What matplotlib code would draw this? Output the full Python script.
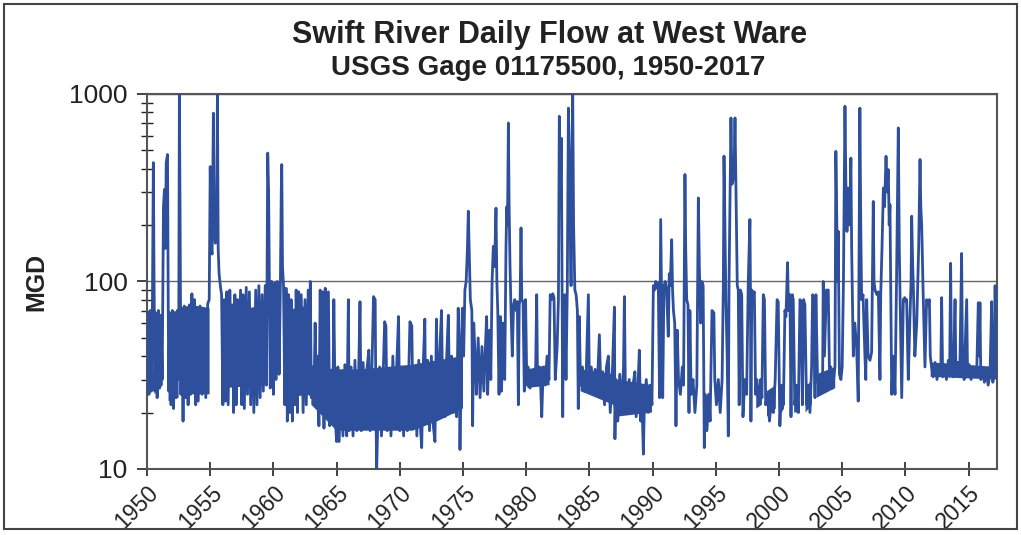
import numpy as np
import matplotlib
matplotlib.use("Agg")
import matplotlib.pyplot as plt
from matplotlib.ticker import LogLocator, FixedLocator, NullFormatter
from matplotlib.patches import Rectangle

# daily flow: (year, MGD) turning points
flow_1950s = [(1950.00, 28), (1950.08, 68), (1950.15, 25), (1950.25, 70), (1950.33, 26), (1950.42, 62),
              (1950.50, 430), (1950.55, 120), (1950.62, 26), (1950.70, 68), (1950.80, 24), (1950.90, 70),
              (1951.00, 27), (1951.10, 66), (1951.20, 30), (1951.30, 250), (1951.38, 310), (1951.45, 150),
              (1951.52, 430), (1951.62, 475), (1951.68, 70), (1951.72, 26), (1951.80, 68), (1951.90, 22),
              (1952.00, 70), (1952.10, 21), (1952.20, 68), (1952.30, 24), (1952.40, 70), (1952.50, 30),
              (1952.56, 1000), (1952.62, 200), (1952.68, 25), (1952.75, 72), (1952.85, 18), (1952.95, 74),
              (1953.05, 24), (1953.15, 72), (1953.25, 22), (1953.35, 75), (1953.45, 25), (1953.55, 86),
              (1953.65, 26), (1953.75, 80), (1953.85, 22), (1953.95, 72), (1954.05, 23), (1954.20, 74),
              (1954.35, 25), (1954.50, 72), (1954.65, 24), (1954.80, 76), (1954.92, 80), (1955.00, 410),
              (1955.08, 150), (1955.15, 140), (1955.25, 790), (1955.32, 200), (1955.40, 160), (1955.50, 180),
              (1955.57, 1000), (1955.63, 150), (1955.70, 110), (1955.80, 95), (1955.90, 85), (1956.00, 22),
              (1956.10, 80), (1956.20, 23), (1956.30, 88), (1956.42, 22), (1956.55, 90), (1956.65, 45),
              (1956.75, 75), (1956.85, 20), (1956.95, 85), (1957.05, 22), (1957.15, 80), (1957.25, 30),
              (1957.40, 90), (1957.50, 22), (1957.60, 85), (1957.70, 21), (1957.85, 93), (1957.95, 25),
              (1958.10, 88), (1958.20, 22), (1958.35, 70), (1958.45, 20), (1958.60, 90), (1958.70, 22),
              (1958.85, 95), (1958.95, 24), (1959.10, 85), (1959.20, 26), (1959.35, 95), (1959.45, 28),
              (1959.55, 484), (1959.62, 300), (1959.68, 100), (1959.75, 27), (1959.85, 100), (1959.95, 95)]

flow_1960s = [(1960.00, 25), (1960.10, 98), (1960.20, 30), (1960.30, 100), (1960.40, 97), (1960.45, 32),
              (1960.55, 95), (1960.62, 300), (1960.66, 420), (1960.72, 120), (1960.80, 95), (1960.90, 22),
              (1961.00, 92), (1961.10, 18), (1961.20, 85), (1961.30, 20), (1961.40, 80), (1961.50, 18),
              (1961.60, 70), (1961.70, 22), (1961.80, 90), (1961.90, 20), (1962.00, 88), (1962.10, 25),
              (1962.20, 85), (1962.35, 20), (1962.50, 80), (1962.60, 22), (1962.75, 90), (1962.85, 25),
              (1962.92, 100), (1963.00, 24), (1963.10, 35), (1963.20, 23), (1963.30, 60), (1963.40, 24),
              (1963.50, 40), (1963.60, 17), (1963.70, 90), (1963.80, 22), (1963.90, 88), (1964.00, 16.5),
              (1964.10, 92), (1964.20, 20), (1964.35, 88), (1964.45, 17), (1964.55, 30), (1964.70, 20),
              (1964.78, 80), (1964.90, 18), (1965.00, 14), (1965.10, 35), (1965.20, 14), (1965.35, 32),
              (1965.50, 15), (1965.65, 36), (1965.80, 15), (1965.93, 80), (1966.00, 16), (1966.15, 35),
              (1966.30, 15), (1966.45, 38), (1966.60, 16), (1966.75, 34), (1966.85, 78), (1966.95, 16),
              (1967.10, 37), (1967.25, 17), (1967.40, 34), (1967.55, 43), (1967.65, 16), (1967.80, 36),
              (1967.92, 83), (1968.05, 80), (1968.12, 18), (1968.17, 10), (1968.25, 17), (1968.40, 35),
              (1968.55, 15), (1968.70, 34), (1968.80, 61), (1968.90, 58), (1969.00, 16), (1969.15, 33),
              (1969.30, 15), (1969.45, 40), (1969.60, 17), (1969.75, 35), (1969.90, 65)]

flow_1970s = [(1970.00, 16), (1970.15, 35), (1970.30, 15), (1970.45, 33), (1970.60, 16), (1970.80, 61),
              (1970.95, 58), (1971.05, 17), (1971.20, 35), (1971.35, 15), (1971.50, 38), (1971.65, 16),
              (1971.73, 13), (1971.85, 35), (1971.98, 63), (1972.05, 18), (1972.20, 38), (1972.35, 16),
              (1972.50, 40), (1972.65, 17), (1972.78, 14), (1972.90, 63), (1973.00, 20), (1973.15, 40),
              (1973.30, 70), (1973.40, 22), (1973.57, 19), (1973.70, 38), (1973.84, 66), (1973.95, 22),
              (1974.10, 40), (1974.25, 20), (1974.40, 38), (1974.50, 19), (1974.62, 72), (1974.70, 45),
              (1974.76, 12.7), (1974.85, 35), (1974.95, 72), (1975.05, 40), (1975.15, 90), (1975.25, 100),
              (1975.35, 150), (1975.42, 237), (1975.50, 140), (1975.58, 80), (1975.70, 70), (1975.76, 17),
              (1975.85, 60), (1975.95, 40), (1976.05, 25), (1976.20, 50), (1976.35, 24), (1976.50, 45),
              (1976.65, 26), (1976.80, 50), (1976.87, 65), (1976.95, 25), (1977.10, 55), (1977.20, 30),
              (1977.30, 100), (1977.40, 154), (1977.50, 120), (1977.61, 246), (1977.68, 100), (1977.75, 70),
              (1977.85, 25), (1977.95, 65), (1978.05, 26), (1978.15, 60), (1978.30, 30), (1978.40, 150),
              (1978.46, 250), (1978.52, 200), (1978.59, 700), (1978.65, 250), (1978.72, 120), (1978.80, 70),
              (1978.90, 40), (1979.00, 75), (1979.10, 80), (1979.20, 70), (1979.30, 78), (1979.38, 22),
              (1979.45, 75), (1979.52, 80), (1979.59, 193), (1979.65, 80), (1979.75, 78), (1979.85, 26),
              (1979.95, 80)]

flow_1980s = [(1980.05, 28), (1980.15, 35), (1980.30, 27), (1980.45, 33), (1980.60, 28), (1980.75, 35),
              (1980.83, 85), (1980.90, 28), (1981.05, 35), (1981.15, 27), (1981.23, 19), (1981.35, 35),
              (1981.50, 28), (1981.65, 40), (1981.80, 30), (1981.90, 85), (1982.00, 80), (1982.10, 86),
              (1982.20, 82), (1982.30, 30), (1982.45, 45), (1982.55, 80), (1982.62, 760), (1982.70, 300),
              (1982.78, 580), (1982.84, 80), (1982.89, 19), (1982.95, 80), (1983.05, 85), (1983.15, 30),
              (1983.25, 90), (1983.34, 840), (1983.45, 300), (1983.55, 95), (1983.62, 500), (1983.68, 1000),
              (1983.75, 200), (1983.85, 90), (1983.95, 85), (1984.05, 70), (1984.12, 21), (1984.20, 65),
              (1984.30, 28), (1984.45, 35), (1984.60, 26), (1984.75, 33), (1984.92, 85), (1985.00, 28),
              (1985.15, 35), (1985.30, 26), (1985.45, 34), (1985.60, 25), (1985.79, 52), (1985.90, 27),
              (1986.05, 33), (1986.20, 22), (1986.35, 35), (1986.50, 40), (1986.65, 20), (1986.80, 30),
              (1986.98, 73), (1987.02, 14.5), (1987.10, 30), (1987.25, 18), (1987.40, 32), (1987.55, 20),
              (1987.70, 35), (1987.77, 83), (1987.85, 25), (1988.00, 22), (1988.15, 30), (1988.30, 20),
              (1988.45, 28), (1988.60, 33), (1988.70, 19), (1988.85, 28), (1988.95, 43), (1989.05, 18),
              (1989.15, 25), (1989.27, 12), (1989.35, 22), (1989.50, 30), (1989.65, 20), (1989.80, 28),
              (1989.95, 22)]

flow_1990s = [(1990.06, 95), (1990.15, 90), (1990.25, 100), (1990.35, 92), (1990.45, 98), (1990.55, 24),
              (1990.64, 214), (1990.70, 95), (1990.80, 24), (1990.90, 95), (1991.00, 100), (1991.10, 92),
              (1991.24, 51), (1991.32, 110), (1991.40, 95), (1991.51, 167), (1991.58, 90), (1991.65, 70),
              (1991.75, 60), (1991.85, 17), (1991.95, 55), (1992.05, 30), (1992.20, 25), (1992.35, 35),
              (1992.45, 28), (1992.56, 372), (1992.62, 150), (1992.70, 80), (1992.80, 75), (1992.88, 20),
              (1992.95, 70), (1993.05, 25), (1993.20, 30), (1993.35, 20), (1993.50, 28), (1993.62, 279),
              (1993.70, 120), (1993.80, 60), (1993.90, 100), (1994.00, 95), (1994.09, 13), (1994.15, 25),
              (1994.30, 16), (1994.45, 25), (1994.55, 18), (1994.70, 70), (1994.85, 68), (1994.92, 30),
              (1995.05, 22), (1995.20, 30), (1995.35, 20), (1995.50, 30), (1995.60, 100), (1995.65, 466),
              (1995.72, 200), (1995.80, 80), (1995.90, 40), (1995.99, 15), (1996.05, 100), (1996.15, 400),
              (1996.20, 745), (1996.28, 330), (1996.38, 350), (1996.45, 400), (1996.52, 745), (1996.60, 300),
              (1996.70, 95), (1996.78, 90), (1996.85, 22), (1996.95, 90), (1997.05, 85), (1997.15, 19),
              (1997.30, 30), (1997.44, 25), (1997.57, 100), (1997.70, 214), (1997.74, 95), (1997.78, 18),
              (1997.85, 90), (1997.95, 85), (1998.05, 88), (1998.15, 25), (1998.25, 30), (1998.40, 22),
              (1998.55, 30), (1998.65, 24), (1998.76, 85), (1998.85, 80), (1998.95, 22), (1999.10, 25),
              (1999.25, 18), (1999.40, 24), (1999.55, 20), (1999.70, 30), (1999.85, 80), (1999.94, 78)]

flow_2000s = [(2000.07, 17), (2000.20, 28), (2000.35, 22), (2000.47, 70), (2000.55, 65), (2000.68, 126),
              (2000.75, 70), (2000.87, 85), (2000.95, 19), (2001.05, 85), (2001.13, 80), (2001.25, 22),
              (2001.40, 28), (2001.53, 20), (2001.66, 80), (2001.75, 78), (2001.85, 22), (2001.95, 80),
              (2002.05, 75), (2002.18, 22), (2002.30, 28), (2002.45, 20), (2002.58, 35), (2002.66, 85),
              (2002.75, 82), (2002.85, 24), (2002.92, 85), (2003.05, 30), (2003.24, 26), (2003.35, 32),
              (2003.45, 28), (2003.50, 100), (2003.60, 40), (2003.75, 90), (2003.90, 90), (2004.00, 30),
              (2004.10, 35), (2004.25, 27), (2004.43, 35), (2004.50, 494), (2004.58, 200), (2004.64, 100),
              (2004.69, 185), (2004.78, 32), (2004.90, 30), (2005.00, 35), (2005.10, 100), (2005.22, 860),
              (2005.30, 300), (2005.38, 185), (2005.45, 315), (2005.55, 200), (2005.61, 250), (2005.69, 455),
              (2005.75, 150), (2005.88, 40), (2006.00, 60), (2006.14, 45), (2006.27, 23), (2006.40, 840),
              (2006.47, 200), (2006.54, 80), (2006.65, 85), (2006.80, 40), (2006.87, 30), (2006.94, 80),
              (2007.05, 40), (2007.20, 38), (2007.33, 42), (2007.40, 120), (2007.46, 267), (2007.52, 100),
              (2007.60, 90), (2007.75, 85), (2007.86, 88), (2007.99, 30), (2008.05, 85), (2008.15, 150),
              (2008.26, 315), (2008.35, 250), (2008.47, 465), (2008.55, 300), (2008.65, 395), (2008.72, 200),
              (2008.78, 257), (2008.85, 80), (2008.92, 25), (2009.05, 40), (2009.18, 25), (2009.30, 100),
              (2009.44, 659), (2009.52, 150), (2009.60, 70), (2009.71, 24), (2009.84, 80), (2009.95, 82)]

flow_2010s = [(2010.05, 78), (2010.10, 80), (2010.23, 30), (2010.35, 60), (2010.45, 100), (2010.50, 223),
              (2010.58, 120), (2010.63, 95), (2010.75, 40), (2010.90, 60), (2011.05, 150), (2011.16, 447),
              (2011.22, 250), (2011.29, 200), (2011.40, 90), (2011.55, 35), (2011.68, 80), (2011.80, 75),
              (2011.90, 80), (2011.97, 40), (2012.05, 36), (2012.20, 31), (2012.35, 37), (2012.50, 30),
              (2012.65, 35), (2012.80, 32), (2012.87, 82), (2012.95, 31), (2013.10, 36), (2013.25, 30),
              (2013.40, 38), (2013.50, 32), (2013.58, 125), (2013.65, 35), (2013.80, 31), (2013.93, 80),
              (2014.00, 32), (2014.15, 37), (2014.30, 31), (2014.45, 141), (2014.52, 36), (2014.65, 30),
              (2014.85, 80), (2014.92, 31), (2015.05, 36), (2015.20, 30), (2015.35, 35), (2015.50, 31),
              (2015.65, 34), (2015.77, 77), (2015.84, 40), (2015.90, 77), (2015.97, 30), (2016.10, 34),
              (2016.25, 29), (2016.40, 33), (2016.55, 28), (2016.70, 33), (2016.83, 78), (2016.92, 29),
              (2017.05, 35), (2017.10, 95), (2017.18, 33)]

# day-to-day scatter band where the daily trace is solid: (year, low, high), None = gap
daily_band = [(1950.00, 25, 68), (1950.45, 26, 65), None,
              (1950.60, 25, 68), (1951.25, 28, 66), None,
              (1951.70, 23, 68), (1952.50, 24, 70), None,
              (1952.65, 25, 72), (1953.50, 25, 75), (1954.95, 25, 72), None,
              (1956.00, 27, 68), (1959.45, 28, 75), None,
              (1961.00, 24, 70), (1962.90, 25, 75), None,
              (1963.00, 22, 35), (1965.00, 16, 34), (1967.00, 16, 34), (1969.00, 16, 35),
              (1971.00, 16, 36), (1973.00, 18, 38), (1975.00, 21, 40), None,
              (1980.10, 27, 34), (1981.85, 28, 36), None,
              (1984.30, 26, 34), (1986.90, 22, 32), (1987.10, 19, 30), (1989.95, 20, 28), None,
              (1998.20, 21, 28), (1998.65, 22, 28), None,
              (1999.05, 19, 26), (1999.75, 21, 28), None,
              (2000.00, 19, 26), (2000.40, 21, 28), None,
              (2001.20, 20, 28), (2001.60, 20, 27), None,
              (2002.10, 20, 27), (2002.60, 22, 30), None,
              (2003.00, 24, 32), (2004.45, 27, 35), None,
              (2012.00, 31, 37), (2017.20, 30, 35)]

year_ticks = list(range(1950, 2016, 5))
flow_ticks = [10, 100, 1000]

title = "Swift River Daily Flow at West Ware"
subtitle = "USGS Gage 01175500, 1950-2017"
ylabel = "MGD"

blue = "#2d4f9c"
dark = "#222222"

plt.rcParams["font.family"] = ["Liberation Sans", "DejaVu Sans"]

flow = flow_1950s + flow_1960s + flow_1970s + flow_1980s + flow_1990s + flow_2000s + flow_2010s
yrs = np.array([p[0] for p in flow])
mgd = np.array([p[1] for p in flow])

band = [b if b is not None else (np.nan, np.nan, np.nan) for b in daily_band]
band_yr = np.array([b[0] for b in band])
band_lo = np.array([b[1] for b in band])
band_hi = np.array([b[2] for b in band])

fig = plt.figure(figsize=(10.21, 5.35), dpi=100)
ax = fig.add_axes([0.144, 0.1234, 0.8325, 0.701])

ax.fill_between(band_yr, band_lo, band_hi, color=blue, lw=0, zorder=2)
ax.plot(yrs, mgd, color=blue, lw=2.0, zorder=3)

ax.set_yscale("log")
ax.set_ylim(10, 1000)
ax.set_xlim(1950, 2017.25)

ax.yaxis.set_major_locator(FixedLocator(flow_ticks))
ax.set_yticklabels([str(v) for v in flow_ticks], fontsize=19)
ax.yaxis.set_minor_locator(LogLocator(base=10, subs=np.arange(2, 10)))
ax.yaxis.set_minor_formatter(NullFormatter())
ax.tick_params(axis="y", which="major", direction="out", length=7, width=1.2, pad=7, colors=dark)
ax.tick_params(axis="y", which="minor", direction="inout", length=8, width=1.0, color=dark)

ax.set_xticks(year_ticks)
ax.set_xticklabels([str(y) for y in year_ticks], rotation=45, ha="right", va="top",
                   rotation_mode="anchor", fontsize=16.5)
ax.tick_params(axis="x", which="major", direction="inout", length=10, width=1.2, pad=4, colors=dark)

ax.grid(True, axis="y", which="major", color="#666666", lw=1.0, zorder=1)
for s in ax.spines.values():
    s.set_color("#555555")
    s.set_linewidth(1.5)

fig.text(0.538, 0.935, title, ha="center", va="center", fontsize=22, fontweight="bold", color=dark)
fig.text(0.537, 0.873, subtitle, ha="center", va="center", fontsize=20, fontweight="bold", color=dark)
fig.text(0.036, 0.473, ylabel, ha="center", va="center", rotation=90, fontsize=18,
         fontweight="bold", color=dark)

# border of the scanned page
fig.patches.append(Rectangle((0.004, 0.011), 0.992, 0.981, transform=fig.transFigure,
                             fill=False, edgecolor="#444444", lw=1.5))

fig.savefig("out.png", dpi=100)
